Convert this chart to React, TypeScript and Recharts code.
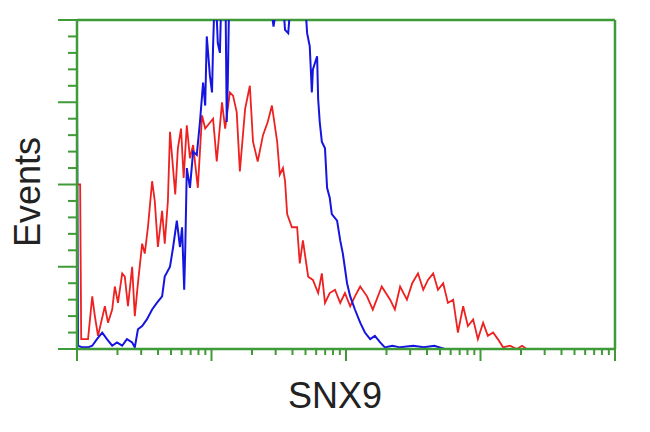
import { Line, LineChart, ReferenceLine, XAxis, YAxis } from 'recharts'

// [channel, events] (channel 0..1024 over 4 log decades)
const isotypeHist: [number, number][] = [
  [0, 50], [6, 50], [8, 3], [21, 3], [29, 16], [34, 10], [40, 4], [53, 13], [59, 8], [67, 12],
  [72, 19], [78, 14], [86, 23], [91, 22], [97, 13], [105, 25], [110, 10], [116, 20], [124, 32],
  [129, 29], [135, 37], [143, 51], [148, 45], [154, 31], [162, 42], [167, 32], [173, 45],
  [177, 66], [187, 47], [192, 61], [198, 67], [203, 52], [209, 68], [215, 58], [221, 62],
  [230, 49], [238, 71], [244, 67], [249, 68], [259, 70], [266, 57], [276, 75], [282, 67],
  [291, 78], [297, 77], [304, 72], [310, 54], [320, 73], [329, 80], [335, 63], [344, 57],
  [354, 65], [363, 69], [371, 74], [381, 63], [386, 53], [392, 55], [396, 51], [400, 41],
  [409, 37], [419, 37], [424, 26], [430, 33], [440, 22], [449, 21], [459, 17], [466, 23],
  [472, 14], [481, 17], [491, 18], [501, 14], [510, 17], [520, 13], [529, 16], [539, 19],
  [552, 16], [563, 12], [580, 19], [596, 15], [605, 12], [615, 19], [628, 15], [638, 20],
  [649, 23], [659, 18], [668, 21], [678, 23], [687, 18], [697, 20], [706, 14], [716, 15],
  [725, 5], [735, 13], [744, 7], [754, 9], [763, 3], [773, 8], [782, 4], [792, 5], [801, 3],
  [811, 0.5], [824, 1], [837, 0], [847, 1], [856, 0], [1024, 0]
]

const snx9Hist: [number, number][] = [
  [0, 75], [2, 1], [10, 0.5], [21, 0.5], [29, 1], [38, 3], [48, 5], [57, 3], [67, 1], [76, 2],
  [86, 1], [95, 3], [105, 2], [110, 0.5], [116, 6], [124, 7], [133, 9], [143, 12], [152, 14],
  [162, 16], [167, 22], [177, 25], [183, 31], [190, 39], [196, 31], [200, 37], [204, 18],
  [206, 30], [209, 55], [215, 49], [221, 60], [228, 59], [234, 69], [240, 81], [244, 74],
  [247, 95], [253, 83], [257, 78], [259, 92], [263, 112], [268, 93], [272, 90], [276, 115],
  [282, 118], [285, 69], [287, 81], [291, 120], [310, 128], [330, 125], [350, 118], [368, 106],
  [374, 98], [380, 104], [390, 110], [396, 97], [402, 96], [405, 102], [409, 115], [430, 112],
  [436, 101], [438, 96], [443, 92], [447, 78], [449, 85], [457, 89], [459, 76], [462, 69],
  [466, 63], [472, 61], [476, 49], [481, 46], [485, 41], [495, 39], [501, 33], [506, 29],
  [514, 20], [520, 16], [529, 12], [539, 8], [548, 5], [558, 3], [567, 4], [577, 2],
  [586, 0.5], [600, 1], [615, 0.5], [640, 1], [660, 0.5], [680, 1], [700, 0], [1024, 0]
]

const decades = [0, 1, 2, 3]
const multiples = [1, 2, 3, 4, 5, 6, 7, 8, 9]
const yTicks = [0, 5, 10, 15, 20, 25, 30, 35, 40, 45, 50, 55, 60, 65, 70, 75, 80, 85, 90, 95, 100]

const CH_PER_DECADE = 256
const xTicks = [
  ...decades.flatMap((d) => multiples.map((m) => CH_PER_DECADE * (d + Math.log10(m)))),
  1024
]
const majorX = new Set([0, 256, 512, 768, 1024])

const GREEN = '#3f9a38'
const RED = '#ee2020'
const BLUE = '#1515e0'

const toRows = (h: [number, number][]) => h.map(([ch, n]) => ({ ch, n }))

function XTick({ x, y, payload }: any) {
  const major = majorX.has(Math.round(payload.value))
  return <line x1={x} x2={x} y1={y} y2={y + (major ? 12 : 6)} stroke={GREEN} strokeWidth={2} />
}

function YTick({ x, y, payload }: any) {
  const major = payload.value % 25 === 0
  return <line x1={x - (major ? 19 : 9)} x2={x} y1={y} y2={y} stroke={GREEN} strokeWidth={2} />
}

export default function App() {
  return (
    <div style={{ position: 'absolute', left: 0, top: 0, width: 650, height: 432, background: '#fff' }}>
      <LineChart width={650} height={432} margin={{ top: 20, right: 35, bottom: 53, left: 17 }}>
        <XAxis
          dataKey="ch"
          type="number"
          domain={[0, 1024]}
          ticks={xTicks}
          interval={0}
          tick={<XTick />}
          tickLine={false}
          tickSize={0}
          tickMargin={0}
          height={30}
          axisLine={{ stroke: GREEN, strokeWidth: 2.5 }}
          allowDataOverflow
          label={{
            content: () => (
              <text x={335} y={408} textAnchor="middle" fontFamily="Liberation Sans, Arial" fontSize={36} fill="#222">
                SNX9
              </text>
            )
          }}
        />
        <YAxis
          type="number"
          domain={[0, 100]}
          ticks={yTicks}
          interval={0}
          tick={<YTick />}
          tickLine={false}
          tickSize={0}
          tickMargin={0}
          width={60}
          axisLine={{ stroke: GREEN, strokeWidth: 2.5 }}
          allowDataOverflow
          label={{
            content: () => (
              <text
                x={40}
                y={192}
                transform="rotate(-90 40 192)"
                textAnchor="middle"
                fontFamily="Liberation Sans, Arial"
                fontSize={36}
                fill="#222"
              >
                Events
              </text>
            )
          }}
        />
        <ReferenceLine y={100} stroke={GREEN} strokeWidth={2.5} />
        <ReferenceLine x={1024} stroke={GREEN} strokeWidth={2.5} />
        <Line
          data={toRows(isotypeHist)}
          dataKey="n"
          type="linear"
          stroke={RED}
          strokeWidth={1.8}
          dot={false}
          isAnimationActive={false}
        />
        <Line
          data={toRows(snx9Hist)}
          dataKey="n"
          type="linear"
          stroke={BLUE}
          strokeWidth={2}
          dot={false}
          isAnimationActive={false}
        />
      </LineChart>
    </div>
  )
}
